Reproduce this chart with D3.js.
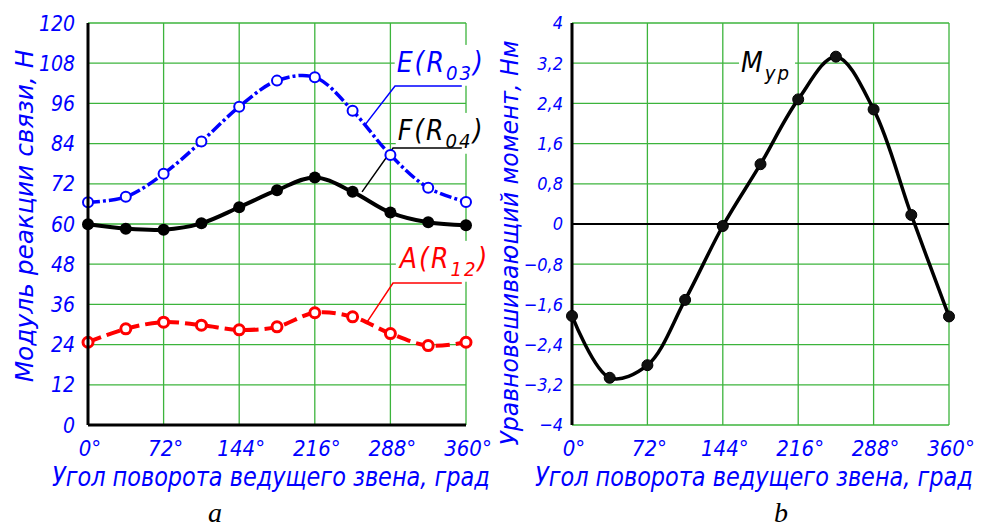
<!DOCTYPE html>
<html>
<head>
<meta charset="utf-8">
<script src="https://cdn.jsdelivr.net/npm/d3@7"></script>
<style>
  body { margin: 0; background: #fff; }
  svg { display: block; }
  .gost { font-family: "Liberation Sans Narrow", "DejaVu Sans Condensed", sans-serif; font-style: italic; }
</style>
</head>
<body>
<div id="plot-canvas"></div>
<script>
// angles of the driving link, deg
const angles = [0, 36, 72, 108, 144, 180, 216, 252, 288, 324, 360];
// reactions, N
const reactionE = [66.5, 68.1, 75.0, 84.6, 95.0, 102.8, 103.8, 93.8, 80.6, 70.8, 66.6];
const reactionF = [59.9, 58.6, 58.3, 60.2, 65.0, 70.1, 73.9, 69.6, 63.4, 60.5, 59.6];
const reactionA = [24.7, 28.7, 30.7, 29.8, 28.4, 29.3, 33.5, 32.3, 27.3, 23.7, 24.7];
// balancing moment, Nm
const moment = [-1.83, -3.06, -2.81, -1.51, -0.04, 1.19, 2.48, 3.33, 2.28, 0.18, -1.84];

const xTicks = [0, 72, 144, 216, 288, 360];
const leftTicks = [0, 12, 24, 36, 48, 60, 72, 84, 96, 108, 120];
const rightTicks = [-4, -3.2, -2.4, -1.6, -0.8, 0, 0.8, 1.6, 2.4, 3.2, 4];

const xTitle = "Угол поворота ведущего звена, град";
const leftTitle = "Модуль реакции связи, Н";
const rightTitle = "Уравновешивающий момент, Нм";

// label anchors in data units: [angle, value]
const seriesLabels = [
    {main: "E(R", sub: "03", color: "#0000ff", text: [294, 105.4], elbow: [292.4, 101.2], tail: 356, tip: [263.8, 89.6]},
    {main: "F(R", sub: "04", color: "#000000", text: [295, 85.1], elbow: [290.5, 82.7], tail: 356, tip: [261, 69.6]},
    {main: "A(R", sub: "12", color: "#ff0000", text: [297, 46.9], elbow: [290.5, 42.4], tail: 356, tip: [265.7, 30.7]}
];

const width = 984, height = 531;
const blue = "#0000ff", grid = "#3cb43c";

const svg = d3.select("#plot-canvas").append("svg")
    .attr("width", width)
    .attr("height", height);

const xLeft = d3.scaleLinear().domain([0, 360]).range([88, 466]);
const yLeft = d3.scaleLinear().domain([0, 120]).range([425, 23]);
const xRight = d3.scaleLinear().domain([0, 360]).range([572, 949]);
const yRight = d3.scaleLinear().domain([-4, 4]).range([425, 23]);

function drawGrid(x, y, yt) {
    const g = svg.append("g");
    g.selectAll("line.v").data(xTicks).enter().append("line")
        .attr("x1", d => x(d)).attr("x2", d => x(d))
        .attr("y1", y.range()[0]).attr("y2", y.range()[1])
        .attr("stroke", grid).attr("stroke-width", 1.3);
    g.selectAll("line.h").data(yt).enter().append("line")
        .attr("x1", x.range()[0]).attr("x2", x.range()[1])
        .attr("y1", d => y(d)).attr("y2", d => y(d))
        .attr("stroke", grid).attr("stroke-width", 1.3);
}

function drawTicks(x, y, yt, fmt, yEnd, fs) {
    svg.append("g").selectAll("text").data(xTicks).enter().append("text")
        .attr("class", "gost")
        .attr("x", d => x(d) + 2).attr("y", 456)
        .attr("text-anchor", "middle")
        .attr("font-size", 22).attr("fill", blue)
        .text(d => d + "°");
    svg.append("g").selectAll("text").data(yt).enter().append("text")
        .attr("class", "gost")
        .attr("x", yEnd).attr("y", d => y(d)).attr("dy", "0.36em")
        .attr("text-anchor", "end")
        .attr("font-size", fs).attr("fill", blue)
        .text(fmt);
}

function labelWithSub(x0, y0, main, sub, color, fs) {
    const t = svg.append("text").attr("class", "gost")
        .attr("x", x0).attr("y", y0)
        .attr("font-size", fs).attr("fill", color)
        .attr("letter-spacing", 2);
    t.append("tspan").text(main);
    t.append("tspan").attr("font-size", fs * 0.72).attr("dy", fs * 0.28).text(sub);
    if (main.indexOf("(") >= 0) t.append("tspan").attr("dy", -fs * 0.28).text(")");
    const b = t.node().getBBox();
    svg.insert("rect", () => t.node())
        .attr("x", b.x - 2).attr("y", b.y - 1)
        .attr("width", b.width + 6).attr("height", b.height + 2)
        .attr("fill", "#fff");
    return t;
}

// squeeze a text horizontally (in its own frame) so it spans len px
function fitText(x0, y0, rot, len, txt, fs, anchor) {
    const t = svg.append("text").attr("class", "gost")
        .attr("text-anchor", anchor)
        .attr("font-size", fs).attr("fill", blue)
        .text(txt);
    const k = len / t.node().getComputedTextLength();
    t.attr("transform", "translate(" + x0 + "," + y0 + ") rotate(" + rot + ") scale(" + k + ",1)");
    return t;
}

// ---- left chart (a)
drawGrid(xLeft, yLeft, leftTicks);
drawTicks(xLeft, yLeft, leftTicks, d => d, 75, 21);

const curve = d3.curveCatmullRom.alpha(0.5);
const lineLeft = d3.line().x(d => xLeft(d[0])).y(d => yLeft(d[1])).curve(curve);

seriesLabels.forEach(s => {
    labelWithSub(xLeft(s.text[0]), yLeft(s.text[1]), s.main, s.sub, s.color, 28);
});
seriesLabels.forEach(s => {
    svg.append("polyline")
        .attr("points", [s.tip, s.elbow, [s.tail, s.elbow[1]]].map(p => xLeft(p[0]) + "," + yLeft(p[1])).join(" "))
        .attr("fill", "none").attr("stroke", s.color).attr("stroke-width", 1.5);
});

const zip = vals => angles.map((a, i) => [a, vals[i]]);

svg.append("path").datum(zip(reactionA)).attr("d", lineLeft)
    .attr("fill", "none").attr("stroke", "#ff0000").attr("stroke-width", 4)
    .attr("stroke-dasharray", "14,6");
svg.append("g").selectAll("circle").data(zip(reactionA)).enter().append("circle")
    .attr("cx", d => xLeft(d[0])).attr("cy", d => yLeft(d[1])).attr("r", 5)
    .attr("fill", "#fff").attr("stroke", "#ff0000").attr("stroke-width", 3);

svg.append("path").datum(zip(reactionF)).attr("d", lineLeft)
    .attr("fill", "none").attr("stroke", "#000").attr("stroke-width", 4);
svg.append("g").selectAll("circle").data(zip(reactionF)).enter().append("circle")
    .attr("cx", d => xLeft(d[0])).attr("cy", d => yLeft(d[1])).attr("r", 6)
    .attr("fill", "#000");

svg.append("path").datum(zip(reactionE)).attr("d", lineLeft)
    .attr("fill", "none").attr("stroke", blue).attr("stroke-width", 3.5)
    .attr("stroke-dasharray", "12,3,3,3");
svg.append("g").selectAll("circle").data(zip(reactionE)).enter().append("circle")
    .attr("cx", d => xLeft(d[0])).attr("cy", d => yLeft(d[1])).attr("r", 5)
    .attr("fill", "#fff").attr("stroke", blue).attr("stroke-width", 2);

// axes
svg.append("line").attr("x1", xLeft(0)).attr("x2", xLeft(0)).attr("y1", yLeft(120)).attr("y2", yLeft(0))
    .attr("stroke", "#000").attr("stroke-width", 3);
svg.append("line").attr("x1", xLeft(0)).attr("x2", xLeft(360)).attr("y1", yLeft(0)).attr("y2", yLeft(0))
    .attr("stroke", "#000").attr("stroke-width", 3);

// ---- right chart (b)
drawGrid(xRight, yRight, rightTicks);
drawTicks(xRight, yRight, rightTicks, d => d === 0 ? "0" : d3.format(".1~f")(d).replace(".", ",").replace("-", "−"), 563, 18);

labelWithSub(xRight(161.4), yRight(3.02), "M", "ур", "#000", 28);

svg.append("line").attr("x1", xRight(0)).attr("x2", xRight(360)).attr("y1", yRight(0)).attr("y2", yRight(0))
    .attr("stroke", "#000").attr("stroke-width", 2);
svg.append("line").attr("x1", xRight(0)).attr("x2", xRight(0)).attr("y1", yRight(4)).attr("y2", yRight(-4))
    .attr("stroke", "#000").attr("stroke-width", 3);

const lineRight = d3.line().x(d => xRight(d[0])).y(d => yRight(d[1])).curve(curve);
svg.append("path").datum(zip(moment)).attr("d", lineRight)
    .attr("fill", "none").attr("stroke", "#000").attr("stroke-width", 3.5);
svg.append("g").selectAll("circle").data(zip(moment)).enter().append("circle")
    .attr("cx", d => xRight(d[0])).attr("cy", d => yRight(d[1])).attr("r", 5.5)
    .attr("fill", "#111").attr("stroke", "#000").attr("stroke-width", 1);

// ---- titles
fitText(52, 486, 0, 438, xTitle, 26, "start");
fitText(535, 486, 0, 438, xTitle, 26, "start");
fitText(33, 216, -90, 333, leftTitle, 24, "middle");
fitText(518, 243, -90, 405, rightTitle, 24, "middle");

[[215, "a"], [781, "b"]].forEach(([x0, txt]) => {
    svg.append("text")
        .attr("x", x0).attr("y", 522)
        .attr("text-anchor", "middle")
        .attr("font-family", "Liberation Serif, serif").attr("font-style", "italic")
        .attr("font-size", 28).attr("fill", "#000")
        .text(txt);
});
</script>
</body>
</html>
